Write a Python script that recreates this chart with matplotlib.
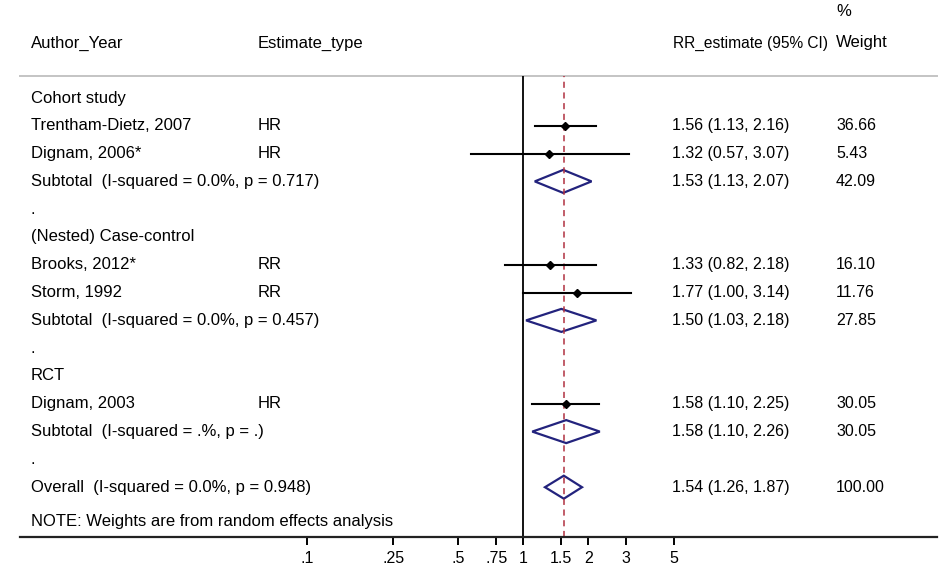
import numpy as np
import matplotlib.pyplot as plt
from matplotlib import transforms
from matplotlib.patches import Polygon

plt.rcParams['font.family'] = ['Liberation Sans', 'DejaVu Sans']

# rows of the forest plot, top to bottom
labels = ["Cohort study", "Trentham-Dietz, 2007", "Dignam, 2006*",
          "Subtotal  (I-squared = 0.0%, p = 0.717)", ".",
          "(Nested) Case-control", "Brooks, 2012*", "Storm, 1992",
          "Subtotal  (I-squared = 0.0%, p = 0.457)", ".",
          "RCT", "Dignam, 2003", "Subtotal  (I-squared = .%, p = .)", ".",
          "Overall  (I-squared = 0.0%, p = 0.948)"]
est_type = ["", "HR", "HR", "", "", "", "RR", "RR", "", "", "", "HR", "", "", ""]
# kind: h = heading/blank, s = study, d = pooled diamond
kind = ["h", "s", "s", "d", "h", "h", "s", "s", "d", "h", "h", "s", "d", "h", "d"]
rr = [None, 1.56, 1.32, 1.53, None, None, 1.33, 1.77, 1.50, None, None, 1.58, 1.58, None, 1.54]
lo = [None, 1.13, 0.57, 1.13, None, None, 0.82, 1.00, 1.03, None, None, 1.10, 1.10, None, 1.26]
hi = [None, 2.16, 3.07, 2.07, None, None, 2.18, 3.14, 2.18, None, None, 2.25, 2.26, None, 1.87]
weight = ["", "36.66", "5.43", "42.09", "", "", "16.10", "11.76", "27.85", "", "", "30.05", "30.05", "", "100.00"]
overall = 1.54
ticks = [0.1, 0.25, 0.5, 0.75, 1, 1.5, 2, 3, 5]
tick_labels = [".1", ".25", ".5", ".75", "1", "1.5", "2", "3", "5"]

W, H = 944, 569
fig = plt.figure(figsize=(W / 100, H / 100), dpi=100)

# plot area in pixels
left, right, top, bottom = 20, 937, 75.7, 536.7
ax = fig.add_axes([left / W, 1 - bottom / H, (right - left) / W, (bottom - top) / H])
ax.set_xscale('log')
ppd = 216.0   # pixels per decade
x_one = 523.3
ax.set_xlim(10 ** ((left - x_one) / ppd), 10 ** ((right - x_one) / ppd))
ax.set_ylim(bottom, top)

for s in ['left', 'right', 'top']:
    ax.spines[s].set_visible(False)
ax.spines['bottom'].set_linewidth(1.6)
ax.spines['bottom'].set_color('#222222')
ax.set_yticks([])
ax.set_xticks(ticks)
ax.set_xticklabels(tick_labels)
ax.minorticks_off()
ax.tick_params(axis='x', length=6, width=1.4, labelsize=11.5, pad=4)

ax.axhline(top + 0.5, color='#c4c4c4', lw=1.4, clip_on=False)

row0, step = 98.0, 27.8
ys = [row0 + i * step for i in range(len(labels))]

ax.axvline(1, color='black', lw=1.3)
ax.axvline(overall, color='#b03040', lw=1.1, ls=(0, (4, 3)))

fs = 12
fs_num = 11.5
tr = transforms.blended_transform_factory(fig.transFigure, ax.transData)

for i, y in enumerate(ys):
    ax.text(31 / W, y, labels[i], transform=tr, fontsize=fs, va='center')
    if est_type[i]:
        ax.text(258 / W, y, est_type[i], transform=tr, fontsize=fs, va='center')
    if rr[i] is not None:
        ax.text(672 / W, y, f"{rr[i]:.2f} ({lo[i]:.2f}, {hi[i]:.2f})", transform=tr,
                fontsize=fs_num, va='center')
        ax.text(836 / W, y, weight[i], transform=tr, fontsize=fs_num, va='center')
    if kind[i] == 's':
        ax.plot([lo[i], hi[i]], [y, y], color='black', lw=1.5)
        ax.plot(rr[i], y, marker='D', color='black', ms=4)
    elif kind[i] == 'd':
        dh = 11.5
        ax.add_patch(Polygon([(lo[i], y), (rr[i], y - dh), (hi[i], y), (rr[i], y + dh)],
                             closed=True, fill=False, edgecolor='#23237d', lw=1.6))

ax.text(31 / W, 521.5, "NOTE: Weights are from random effects analysis", transform=tr,
        fontsize=fs, va='center')

# header
ax.text(31 / W, 43, "Author_Year", transform=tr, fontsize=fs, va='center')
ax.text(258 / W, 43, "Estimate_type", transform=tr, fontsize=fs, va='center')
ax.text(828 / W, 43, "RR_estimate (95% CI)", transform=tr, fontsize=11.2, va='center',
        ha='right')
ax.text(836 / W, 43, "Weight", transform=tr, fontsize=fs, va='center')
ax.text(836 / W, 12, "%", transform=tr, fontsize=fs, va='center')

fig.savefig('out.png', dpi=100)
